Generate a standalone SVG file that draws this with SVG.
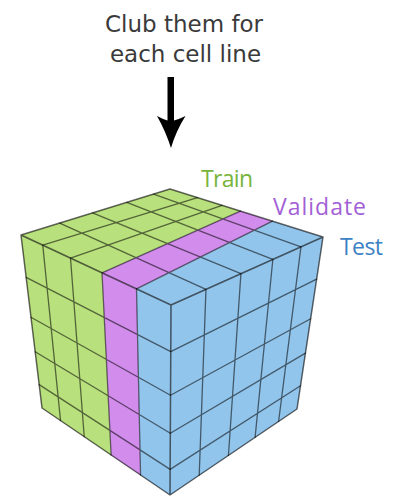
<svg xmlns="http://www.w3.org/2000/svg" width="393" height="497" viewBox="0 0 393 497">
<style>
.title{font-family:"DejaVu Sans","Open Sans",sans-serif;font-size:23px;fill:#3a3a3a;text-anchor:middle}
.lbl{font-family:"Open Sans","Liberation Sans",sans-serif;font-size:23px}
.g{fill:#b8e07c}
.p{fill:#d18cec}
.b{fill:#92c5ec}
.grid{stroke:#000;stroke-opacity:0.55;stroke-width:1.3;fill:none;stroke-linecap:round}
.edge{stroke:#000;stroke-opacity:0.6;stroke-width:1.5;fill:none;stroke-linejoin:round}
</style>
<rect width="393" height="497" fill="#fff"/>
<g id="title">
<text class="title" x="184" y="31.5">Club them for</text>
<text class="title" x="185.5" y="61.5">each cell line</text>
</g>
<g id="connectors">
<path d="M167.5,77 H174 V120.5 Q179.5,119 185.5,116 Q176,131 171,148 Q165.5,131 157,116 Q162.5,119 167.5,120.5 Z" fill="#000"/>
</g>
<g id="cube">
<g id="top-face">
<polygon class="g" points="21,235 102,272.8 240.38,211.08 170,189"/>
<polygon class="p" points="102,272.8 136.5,288.9 272.51,221.16 240.38,211.08"/>
<polygon class="b" points="136.5,288.9 171,305 323,237 272.51,221.16"/>
<path class="grid" d="M42.75,245.15 L197.54,197.64 M70.5,258.1 L222.02,205.32 M102,272.8 L240.38,211.08 M136.5,288.9 L272.51,221.16 M59.74,223.04 L205.96,289.36 M92.52,212.92 L240.92,273.72 M126.79,202.34 L272.84,259.44 M153.61,194.06 L300.96,246.86"/>
</g>
<g id="left-face">
<polygon class="g" points="21,235 102,272.8 111.12,455 42,408"/>
<polygon class="p" points="102,272.8 136.5,288.9 140.56,475 111.12,455"/>
<polygon class="b" points="136.5,288.9 171,305 170,495 140.56,475"/>
<path class="grid" d="M42.75,245.15 L60.56,420.6 M70.5,258.1 L84.24,436.7 M102,272.8 L111.12,455 M136.5,288.9 L140.56,475 M26.15,277.4 L170.76,351.55 M30.98,317.2 L170.53,395.25 M35.18,351.8 L170.33,433.25 M39.17,384.6 L170.14,469.35"/>
</g>
<g id="right-face">
<polygon class="b" points="171,305 323,237 297,409 170,495"/>
<path class="grid" d="M205.96,289.36 L199.21,475.22 M240.92,273.72 L228.42,455.44 M272.84,259.44 L255.09,437.38 M300.96,246.86 L278.59,421.47 M170.76,351.55 L316.63,279.14 M170.53,395.25 L310.65,318.7 M170.33,433.25 L305.45,353.1 M170.14,469.35 L300.51,385.78"/>
</g>
<path class="edge" d="M21,235 L170,189 L323,237 L297,409 L170,495 L42,408 Z M21,235 L171,305 L323,237 M171,305 L170,495"/>
</g>
<g id="label-train"><text class="lbl" x="201" y="187" fill="#78b43c" textLength="52">Train</text></g>
<g id="label-validate"><text class="lbl" x="273" y="215" fill="#a35fd6" textLength="93">Validate</text></g>
<g id="label-test"><text class="lbl" x="340" y="255" fill="#3d82c4" textLength="43">Test</text></g>
</svg>
